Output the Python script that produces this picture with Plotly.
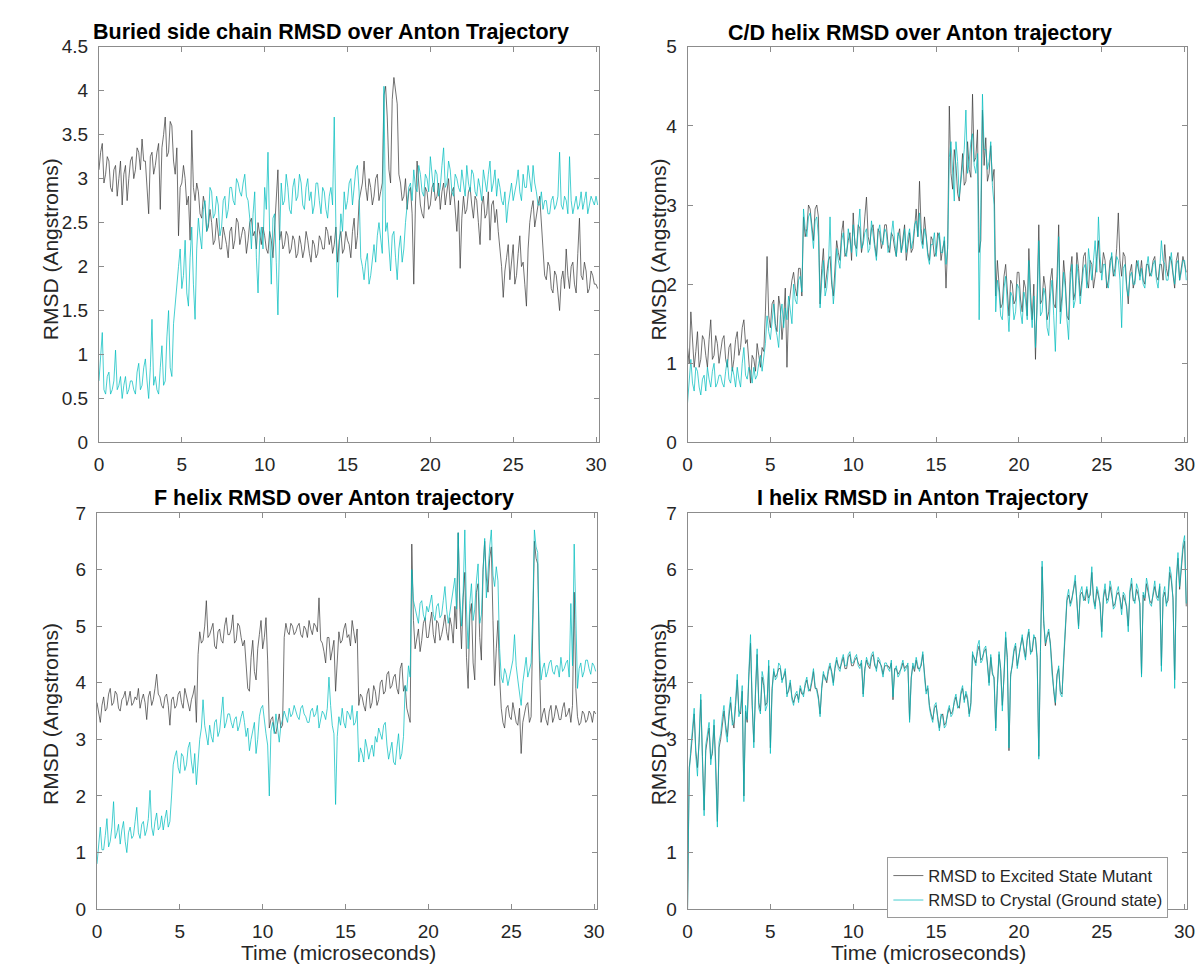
import plotly.graph_objects as go

W, H = 1203, 975

# time axis (microseconds), one sample every 0.1 us
time_us = [round(0.1 * i, 1) for i in range(302)]

# ---- Panel 1: Buried side chain RMSD ----
side_excited = [
    3.10,3.30, 3.40,2.95, 3.05,3.25, 3.20,2.90, 2.85,3.10, 3.15,2.80, 3.00,3.20, 2.70,3.05, 3.15,2.75, 3.00,3.20,
    3.25,3.00, 3.10,3.35, 3.30,3.10, 3.45,3.20, 3.20,2.95, 2.60,3.25, 3.30,3.05, 3.15,3.30, 3.40,2.65, 3.35,3.50,
    3.70,3.25, 3.30,3.65, 3.60,3.20, 3.05,3.35, 2.35,2.90, 2.95,3.15, 3.00,2.70, 2.80,2.30, 3.55,2.90, 2.75,2.95,
    2.85,2.60, 2.55,2.80, 2.70,2.40, 2.45,2.65, 2.50,2.25, 2.30,2.55, 2.40,2.20, 2.20,2.45, 2.35,2.25, 2.10,2.40,
    2.45,2.20, 2.30,2.55, 2.50,2.25, 2.35,2.45, 2.40,2.15, 2.30,2.50, 2.55,2.35, 2.40,2.20, 2.50,2.35, 2.25,2.45,
    2.35,2.20, 2.15,2.40, 2.30,2.10, 2.45,2.65, 3.10,2.30, 2.40,2.20, 2.25,2.40, 2.35,2.15, 2.20,2.35, 2.30,2.10,
    2.15,2.35, 2.25,2.10, 2.20,2.40, 2.30,2.15, 2.05,2.30, 2.25,2.10, 2.15,2.35, 2.30,2.20, 2.20,2.45, 2.40,2.25,
    2.35,2.15, 2.25,2.45, 2.05,2.30, 2.40,2.15, 2.20,2.40, 2.30,2.25, 2.10,2.40, 2.55,2.20, 2.35,2.75, 2.85,2.95,
    3.20,2.90, 2.75,3.00, 2.90,2.70, 2.80,3.00, 3.05,2.75, 2.85,2.95, 3.95,4.05, 3.70,3.10, 2.95,3.90, 4.15,4.00,
    3.85,3.05, 2.95,2.75, 2.80,3.00, 2.65,2.85, 2.90,2.60, 1.80,2.70, 3.20,2.95, 2.70,2.60, 2.55,2.90, 2.85,2.65,
    2.70,2.90, 2.95,2.75, 2.80,2.95, 2.65,2.85, 2.95,2.70, 2.85,3.00, 2.70,2.85, 2.90,2.60, 2.40,2.75, 1.98,2.55,
    2.80,2.60, 2.65,2.85, 2.90,2.70, 2.55,2.80, 2.75,2.50, 2.25,2.70, 2.80,2.55, 2.60,2.85, 2.30,2.70, 2.75,2.50,
    2.65,2.40, 2.20,2.00, 1.65,1.95, 2.10,2.25, 1.85,2.05, 2.25,1.80, 1.90,2.15, 2.35,2.00, 2.05,1.80, 1.55,2.20,
    2.50,2.65, 2.75,2.45, 2.60,2.70, 2.80,2.50, 2.10,1.90, 1.85,2.05, 2.00,1.75, 1.70,1.95, 1.90,1.70, 1.50,1.85,
    1.95,1.75, 2.20,1.90, 1.75,2.00, 2.05,1.80, 1.70,2.15, 2.55,1.90, 1.85,2.05, 1.95,1.70, 1.75,1.95, 1.90,1.80,
    1.80, 1.75,
]
side_crystal = [
    0.70,0.95, 1.25,0.60, 0.55,0.75, 0.80,0.55, 0.60,0.70, 1.05,0.60, 0.65,0.75, 0.50,0.65, 0.75,0.55, 0.60,0.70,
    0.70,0.60, 0.55,0.80, 0.90,0.60, 0.65,0.85, 0.95,0.70, 0.50,0.85, 1.40,0.65, 0.75,0.60, 0.55,0.85, 1.10,0.65,
    0.70,1.20, 1.50,0.85, 0.75,1.35, 1.60,1.85, 2.00,2.20, 1.75,1.90, 2.30,1.70, 1.55,2.10, 2.45,1.80, 1.40,2.20,
    2.55,2.35, 2.20,2.65, 2.75,2.40, 2.50,2.90, 2.85,2.55, 2.60,2.80, 2.70,2.35, 2.45,2.75, 2.80,2.55, 2.65,2.90,
    2.90,2.75, 2.70,3.00, 2.95,2.85, 2.80,2.95, 3.05,2.80, 2.75,2.55, 2.20,2.60, 2.85,2.10, 1.70,2.30, 2.45,2.20,
    2.90,2.65, 3.30,2.40, 1.80,2.55, 2.60,2.05, 1.45,2.30, 2.95,2.70, 2.75,3.05, 2.90,2.65, 2.60,2.90, 3.00,2.75,
    2.80,3.05, 2.95,2.70, 2.65,2.90, 3.00,2.75, 2.85,2.60, 2.70,2.95, 2.95,2.75, 2.60,2.90, 2.85,2.65, 2.55,2.80,
    2.90,2.70, 3.70,2.45, 1.65,2.20, 2.60,2.40, 2.85,2.65, 2.75,2.95, 3.00,2.70, 2.90,3.10, 3.15,2.85, 2.10,2.00,
    1.85,2.05, 2.15,1.80, 1.90,2.10, 2.25,2.05, 2.35,2.50, 2.30,2.15, 4.05,2.40, 2.50,2.20, 1.95,2.35, 2.40,2.10,
    1.85,2.20, 2.35,2.05, 2.20,2.50, 2.75,2.90, 2.95,2.75, 3.10,2.90, 2.85,3.15, 3.05,2.85, 2.80,3.05, 3.00,2.85,
    3.25,3.00, 2.85,3.10, 3.05,2.80, 2.90,3.15, 3.35,2.90, 2.95,3.20, 3.10,2.85, 2.80,3.05, 3.00,2.90, 2.85,3.10,
    2.95,2.80, 3.15,2.95, 2.85,3.10, 3.05,2.85, 2.80,3.00, 2.90,2.75, 3.10,2.95, 2.85,3.05, 3.20,2.85, 2.95,3.10,
    2.80,3.00, 2.90,2.75, 2.70,2.85, 2.50,2.70, 2.85,2.95, 2.75,2.85, 2.95,3.10, 2.85,2.75, 3.05,2.90, 2.90,3.15,
    3.00,2.85, 3.15,2.95, 2.85,2.70, 2.70,2.85, 2.65,2.75, 2.75,2.60, 2.60,2.75, 2.80,2.65, 2.70,2.80, 3.30,2.70,
    2.65,2.80, 2.75,2.60, 3.25,2.75, 2.60,2.70, 2.80,2.65, 2.70,2.85, 2.65,2.75, 2.85,2.60, 2.70,2.80, 2.75,2.70,
    2.80, 2.70,
]

# ---- Panel 2: C/D helix RMSD ----
cd_excited = [
    1.20,1.00, 1.65,1.25, 0.95,1.15, 1.40,0.95, 1.05,1.35, 1.30,1.10, 0.95,1.30, 1.55,1.05, 1.10,1.35, 1.25,1.00,
    1.15,1.30, 1.35,1.05, 0.95,1.20, 1.25,0.90, 1.05,1.30, 1.40,1.10, 1.20,1.45, 1.55,1.25, 1.30,1.00, 0.75,1.10,
    1.05,0.90, 1.25,1.10, 0.95,1.20, 1.15,1.65, 2.35,1.60, 1.45,1.75, 1.80,1.50, 1.40,1.85, 1.70,1.30, 1.55,1.95,
    0.95,1.70, 1.90,2.05, 2.15,1.95, 1.85,2.20, 2.20,1.85, 2.85,2.60, 2.70,3.00, 2.95,2.75, 2.55,2.95, 3.00,2.85,
    1.75,2.20, 2.45,1.95, 2.10,2.30, 2.35,2.00, 1.85,2.25, 2.55,2.40, 2.30,2.65, 2.80,2.35, 2.40,2.55, 2.65,2.30,
    2.90,2.50, 2.45,2.75, 2.70,2.40, 2.55,2.85, 3.10,2.60, 2.50,2.70, 2.75,2.50, 2.35,2.70, 2.65,2.45, 2.55,2.75,
    2.75,2.50, 2.40,2.65, 2.60,2.45, 2.35,2.60, 2.70,2.40, 2.55,2.75, 2.30,2.50, 2.65,2.40, 2.45,2.70, 2.95,2.60,
    3.30,2.70, 2.50,2.85, 2.65,2.40, 2.30,2.60, 2.55,2.35, 2.40,2.65, 2.60,2.30, 2.45,2.55, 1.95,2.50, 4.25,3.40,
    3.20,3.70, 3.50,3.15, 3.05,3.40, 3.65,3.25, 3.30,3.80, 3.45,3.35, 4.40,3.55, 3.60,3.95, 2.40,2.55, 4.20,3.50,
    3.85,3.30, 3.40,3.75, 3.30,3.45, 1.85,2.30, 2.05,1.70, 1.75,2.10, 2.25,1.90, 1.60,2.05, 2.00,1.75, 1.80,2.15,
    2.15,1.80, 1.65,2.05, 1.95,1.60, 2.45,1.90, 1.55,2.00, 1.05,1.85, 2.75,1.75, 1.80,2.10, 1.95,1.55, 1.65,2.05,
    2.20,1.75, 1.70,2.10, 2.75,1.65, 1.85,2.30, 2.05,1.60, 1.55,2.15, 2.35,1.80, 1.90,2.40, 2.20,1.85, 2.05,2.35,
    2.40,2.05, 1.95,2.30, 2.25,1.95, 2.10,2.35, 2.55,2.15, 2.15,2.40, 2.30,1.95, 2.05,2.30, 2.35,2.10, 2.20,2.45,
    2.90,2.30, 2.10,2.40, 2.35,2.00, 1.75,2.15, 2.25,1.95, 2.05,2.30, 2.20,2.10, 2.30,2.05, 2.00,2.25, 2.25,2.10,
    2.15,2.30, 2.35,2.10, 2.05,2.25, 2.25,2.05, 2.50,2.20, 2.10,2.35, 2.30,2.10, 1.95,2.30, 2.40,2.05, 2.20,2.35,
    2.25, 2.15,
]
cd_crystal = [
    0.50,0.85, 1.05,0.75, 0.65,0.95, 0.90,0.70, 0.60,0.80, 0.85,0.65, 0.95,0.80, 0.70,0.90, 1.00,0.70, 0.75,0.85,
    0.85,0.75, 0.70,0.90, 1.05,0.80, 0.75,0.95, 0.85,0.70, 0.95,0.80, 0.70,1.00, 1.20,0.85, 0.80,0.95, 0.90,0.75,
    0.95,0.80, 0.85,1.00, 1.10,0.90, 1.05,1.25, 1.60,1.40, 1.30,1.55, 1.75,1.45, 1.35,1.20, 1.60,1.75, 1.45,1.70,
    1.55,1.85, 1.70,1.50, 2.00,1.80, 1.75,2.05, 2.10,1.90, 2.95,2.70, 2.60,2.85, 2.90,2.65, 2.45,2.80, 2.85,2.60,
    1.70,2.05, 2.30,1.85, 1.95,2.20, 2.85,2.10, 1.75,2.00, 2.45,2.30, 2.20,2.55, 2.65,2.40, 2.35,2.70, 2.55,2.40,
    2.75,2.55, 2.35,2.70, 2.95,2.45, 2.50,2.65, 2.70,2.40, 2.45,2.80, 2.60,2.45, 2.30,2.65, 2.75,2.55, 2.50,2.70,
    2.65,2.40, 2.45,2.60, 2.80,2.55, 2.35,2.65, 2.60,2.40, 2.50,2.70, 2.40,2.60, 2.70,2.45, 2.55,2.75, 2.80,2.60,
    2.90,2.55, 2.45,2.70, 2.60,2.35, 2.25,2.50, 2.50,2.65, 2.35,2.55, 2.65,2.40, 2.40,2.60, 2.25,2.45, 3.60,3.80,
    3.35,3.05, 3.80,3.55, 3.10,3.30, 3.45,3.70, 4.20,3.40, 3.55,3.80, 3.90,3.50, 3.40,3.65, 1.55,3.20, 4.40,3.70,
    3.70,3.45, 3.55,3.80, 3.25,3.00, 1.65,2.05, 1.90,1.60, 1.55,1.95, 2.10,1.75, 1.40,1.90, 1.85,1.55, 1.65,2.00,
    1.95,1.65, 1.50,1.90, 1.80,1.55, 2.30,1.75, 1.45,1.85, 1.20,1.70, 2.55,1.60, 1.65,1.95, 1.85,1.45, 1.35,1.85,
    2.05,1.60, 1.15,1.85, 2.60,1.50, 1.75,2.15, 1.95,1.55, 1.30,2.00, 2.25,1.70, 1.80,2.25, 2.05,1.75, 1.95,2.20,
    2.25,1.95, 2.45,2.20, 2.05,2.30, 2.55,2.15, 2.85,2.35, 2.05,2.25, 2.25,2.00, 1.95,2.20, 2.40,2.15, 2.10,2.35,
    2.30,2.05, 1.45,2.20, 2.25,1.95, 1.85,2.10, 2.15,2.00, 2.00,2.25, 2.30,2.05, 2.20,2.00, 1.95,2.20, 2.35,2.15,
    2.10,2.25, 2.30,2.05, 1.95,2.20, 2.55,2.30, 2.25,2.05, 2.05,2.25, 2.40,2.15, 2.00,2.25, 2.30,2.05, 2.15,2.30,
    2.30, 2.05,
]

# ---- Panel 3: F helix RMSD ----
f_excited = [
    3.65,3.45, 3.30,3.60, 3.75,3.50, 3.55,3.80, 3.90,3.60, 3.65,3.85, 3.80,3.55, 3.50,3.70, 3.75,3.85, 3.60,3.70,
    3.85,3.60, 3.65,3.75, 3.70,3.90, 3.55,3.70, 3.80,3.65, 3.35,3.75, 3.85,3.60, 3.70,3.90, 4.15,3.80, 3.75,3.60,
    3.55,3.75, 3.80,3.60, 3.25,3.70, 3.75,3.55, 3.60,3.80, 3.85,3.65, 3.55,3.90, 3.75,3.60, 3.50,3.70, 3.80,3.95,
    3.30,4.50, 4.90,4.70, 4.75,5.00, 5.45,4.80, 4.85,4.95, 5.05,4.65, 4.60,4.90, 4.95,4.75, 4.70,5.00, 5.15,4.85,
    4.85,4.95, 5.20,4.70, 4.75,5.05, 5.00,4.80, 4.65,4.75, 4.40,3.90, 3.85,4.45, 4.75,4.20, 4.05,4.60, 4.85,5.10,
    4.60,4.80, 5.15,4.40, 3.20,3.35, 3.40,3.15, 3.10,3.30, 3.45,3.20, 3.25,4.80, 5.05,4.90, 4.85,5.05, 5.00,4.85,
    4.90,5.00, 5.05,4.85, 4.80,5.00, 4.95,4.80, 5.10,4.95, 4.85,5.05, 5.00,4.90, 5.50,4.75, 4.70,4.55, 4.35,4.80,
    4.80,4.40, 4.55,4.75, 3.85,4.50, 4.90,4.70, 4.75,4.95, 5.05,4.80, 4.85,4.65, 5.10,4.90, 4.70,4.95, 3.60,3.80,
    3.75,3.60, 3.50,3.80, 3.90,3.55, 3.65,3.95, 3.85,3.60, 3.70,4.00, 4.05,3.80, 3.85,4.15, 4.20,3.90, 3.95,4.10,
    4.15,3.90, 3.80,4.25, 4.35,3.85, 3.95,3.55, 3.40,3.30, 6.45,5.10, 4.60,4.80, 4.95,4.55, 4.75,5.05, 5.15,4.80,
    4.80,5.05, 5.25,4.85, 4.70,5.10, 5.05,4.75, 4.85,5.00, 5.20,4.90, 4.75,5.15, 5.00,4.70, 5.35,4.95, 6.65,5.30,
    4.60,5.50, 5.95,4.45, 3.90,5.20, 5.40,4.35, 4.05,5.60, 5.75,4.80, 4.40,6.00, 6.50,5.85, 5.60,6.20, 6.40,5.10,
    3.95,4.60, 5.10,4.10, 3.55,3.30, 3.20,3.55, 3.60,3.40, 3.35,3.65, 3.50,3.30, 3.25,3.55, 2.75,3.30, 3.45,3.60,
    3.65,3.30, 3.40,4.80, 6.50,6.20, 6.10,4.40, 3.30,3.45, 3.55,3.35, 3.25,3.50, 3.60,3.30, 3.40,3.60, 3.50,3.35,
    3.35,3.55, 3.65,3.40, 3.45,3.55, 3.30,3.60, 5.60,3.90, 3.40,3.25, 3.30,3.50, 3.45,3.30, 3.35,3.50, 3.45,3.30,
    3.50, 3.45,
]
f_crystal = [
    0.80,1.20, 1.45,1.05, 1.05,1.30, 1.60,1.10, 1.20,1.45, 1.90,1.25, 1.35,1.50, 1.15,1.40, 1.55,1.20, 1.00,1.35,
    1.45,1.25, 1.30,1.55, 1.80,1.35, 1.25,1.50, 1.55,1.30, 1.40,1.60, 2.10,1.45, 1.30,1.55, 1.70,1.40, 1.45,1.65,
    1.40,1.60, 1.75,1.45, 1.55,2.00, 2.55,2.70, 2.80,2.50, 2.40,2.75, 2.70,2.45, 2.55,2.85, 2.95,2.60, 2.40,2.75,
    2.20,2.60, 3.00,3.20, 3.70,3.25, 3.10,2.90, 3.25,3.05, 2.95,3.30, 3.35,3.05, 3.15,3.40, 3.75,3.20, 3.30,3.45,
    3.45,3.30, 3.20,3.35, 3.40,3.15, 3.25,3.40, 3.50,3.30, 3.05,3.20, 2.80,3.00, 3.15,3.30, 2.75,3.00, 3.40,3.55,
    3.60,3.30, 3.10,2.90, 2.00,3.15, 3.30,3.10, 3.45,3.20, 2.95,3.25, 3.35,3.50, 3.40,3.30, 3.55,3.40, 3.45,3.60,
    3.50,3.40, 3.35,3.55, 3.60,3.45, 3.40,3.30, 3.30,3.50, 3.55,3.40, 3.45,3.60, 3.20,3.35, 3.50,3.45, 3.35,3.55,
    4.10,3.60, 3.25,3.10, 1.85,3.05, 3.40,3.25, 3.55,3.30, 3.20,3.50, 3.45,3.35, 3.60,3.25, 3.30,3.50, 2.60,2.85,
    2.75,2.60, 3.00,2.85, 2.65,2.80, 2.90,2.70, 3.05,2.95, 3.20,3.10, 3.00,3.25, 3.30,2.90, 2.65,2.80, 2.95,2.60,
    2.55,2.85, 3.10,2.65, 2.75,3.05, 3.95,3.85, 4.30,4.10, 6.00,5.45, 5.30,5.15, 5.05,5.40, 5.45,5.20, 5.10,5.35,
    5.25,5.40, 5.55,5.20, 5.10,5.35, 5.40,5.15, 5.20,5.45, 5.70,5.30, 5.05,5.25, 5.45,5.60, 5.85,5.30, 6.65,5.50,
    5.00,5.60, 6.70,5.30, 4.60,5.40, 5.75,5.10, 5.30,5.80, 6.10,5.05, 5.20,5.95, 6.55,5.50, 6.05,6.40, 6.70,5.90,
    5.70,6.05, 5.80,4.60, 4.10,4.00, 4.25,4.15, 3.95,4.10, 4.20,4.40, 4.85,4.30, 4.05,3.85, 3.60,4.00, 4.25,4.45,
    4.10,4.25, 4.35,5.20, 6.70,6.40, 6.30,4.60, 4.05,4.25, 4.35,4.10, 4.20,4.35, 4.40,4.20, 4.15,4.30, 4.30,4.10,
    4.45,4.20, 4.25,4.35, 4.40,4.10, 5.40,4.30, 6.45,5.20, 3.90,4.25, 4.35,4.10, 4.20,4.40, 4.40,4.25, 4.15,4.35,
    4.30, 4.20,
]

# ---- Panel 4: I helix RMSD ----
i_excited = [
    0.00,2.50, 2.75,3.10, 3.45,2.80, 2.50,2.95, 3.70,2.70, 1.75,2.80, 3.00,3.20, 2.65,2.75, 3.25,2.60, 1.55,2.85,
    3.00,3.30, 3.50,3.25, 3.05,3.40, 3.65,3.35, 3.20,3.60, 4.05,3.50, 3.45,3.85, 2.00,3.50, 3.30,4.10, 4.70,3.60,
    2.95,3.80, 4.50,3.65, 3.50,4.10, 3.95,3.60, 3.65,4.30, 2.85,3.90, 4.20,4.10, 4.15,4.25, 4.25,4.05, 4.10,4.20,
    3.80,3.85, 4.00,3.75, 3.65,3.75, 3.80,3.70, 3.90,3.80, 3.80,3.95, 4.05,3.90, 3.85,4.00, 4.20,3.90, 3.90,3.75,
    3.45,3.90, 4.15,4.10, 4.00,4.20, 4.30,4.20, 4.00,4.25, 4.40,4.30, 4.25,4.35, 4.45,4.25, 4.25,4.45, 4.50,4.30,
    4.30,4.40, 4.45,4.35, 4.30,4.35, 3.80,4.25, 4.40,4.30, 4.25,4.45, 4.50,4.30, 4.25,4.40, 4.35,4.30, 4.15,4.30,
    4.30,4.30, 4.25,4.35, 3.70,4.25, 4.25,4.15, 4.20,4.25, 4.35,4.25, 4.30,4.30, 3.35,4.10, 4.30,4.20, 4.40,4.25,
    4.25,4.30, 4.50,4.15, 3.85,3.90, 3.60,3.45, 3.35,3.55, 3.60,3.40, 3.20,3.40, 3.45,3.25, 3.30,3.45, 3.55,3.45,
    3.50,3.65, 3.75,3.60, 3.55,3.80, 3.90,3.70, 3.80,3.70, 3.45,3.65, 4.50,4.45, 4.35,4.55, 4.65,4.40, 4.45,4.55,
    4.60,4.35, 4.00,4.45, 4.15,4.10, 3.20,3.95, 4.50,4.25, 3.60,4.10, 4.80,4.45, 2.80,4.15, 4.30,4.55, 4.65,4.30,
    4.50,4.65, 4.80,4.60, 4.45,4.75, 4.90,4.55, 4.55,4.80, 4.80,4.45, 2.70,4.55, 6.05,5.05, 4.65,4.80, 4.90,4.70,
    4.20,3.85, 3.60,4.15, 4.25,3.85, 3.80,4.40, 5.00,5.45, 5.55,5.40, 5.50,5.65, 5.80,5.45, 5.00,5.55, 5.60,5.50,
    5.45,5.65, 5.50,5.55, 5.95,5.50, 5.35,5.65, 5.50,5.40, 4.90,5.50, 5.65,5.45, 5.50,5.70, 5.55,5.35, 5.40,5.55,
    5.60,5.50, 5.30,5.55, 5.45,5.35, 5.00,5.60, 5.75,5.45, 5.45,5.65, 5.55,5.40, 4.15,5.55, 5.45,5.75, 5.60,5.45,
    5.40,5.55, 5.70,5.55, 5.50,5.70, 4.30,5.50, 5.60,5.40, 5.45,5.95, 5.80,5.50, 4.05,5.80, 6.20,5.65, 6.00,6.35,
    6.50, 5.35,
]
i_crystal = [
    0.00,2.40, 2.85,3.20, 3.55,2.70, 2.35,3.05, 3.80,2.60, 1.65,2.90, 3.10,3.30, 2.55,2.85, 3.35,2.50, 1.45,2.95,
    3.10,3.40, 3.60,3.15, 2.95,3.50, 3.75,3.25, 3.30,3.70, 4.15,3.40, 3.55,3.95, 1.90,3.60, 3.35,4.20, 4.85,3.70,
    2.85,3.90, 4.60,3.55, 3.45,4.20, 4.05,3.50, 3.60,4.40, 2.75,3.80, 4.25,4.05, 4.10,4.35, 4.30,4.00, 4.15,4.25,
    3.75,3.90, 4.05,3.70, 3.60,3.80, 3.85,3.65, 3.95,3.85, 3.75,4.00, 4.10,3.85, 3.90,4.05, 4.25,3.95, 3.85,3.70,
    3.40,3.95, 4.20,4.05, 4.05,4.25, 4.35,4.15, 3.95,4.30, 4.45,4.25, 4.20,4.40, 4.50,4.30, 4.30,4.50, 4.55,4.35,
    4.35,4.45, 4.50,4.30, 4.25,4.40, 3.75,4.20, 4.45,4.35, 4.30,4.50, 4.55,4.35, 4.20,4.45, 4.40,4.25, 4.10,4.35,
    4.35,4.25, 4.20,4.40, 3.75,4.20, 4.30,4.10, 4.15,4.30, 4.40,4.20, 4.25,4.35, 3.30,4.05, 4.35,4.25, 4.45,4.30,
    4.20,4.35, 4.55,4.10, 3.80,3.95, 3.55,3.40, 3.30,3.60, 3.65,3.35, 3.15,3.45, 3.40,3.20, 3.25,3.50, 3.60,3.40,
    3.45,3.70, 3.80,3.55, 3.60,3.85, 3.95,3.65, 3.85,3.75, 3.40,3.60, 4.55,4.40, 4.30,4.65, 4.75,4.35, 4.40,4.60,
    4.65,4.30, 3.95,4.50, 4.20,4.05, 3.15,3.90, 4.55,4.20, 3.50,4.15, 4.90,4.40, 2.85,4.10, 4.35,4.60, 4.70,4.25,
    4.45,4.70, 4.85,4.55, 4.40,4.80, 4.95,4.50, 4.60,4.85, 4.75,4.40, 2.65,4.60, 6.15,5.10, 4.70,4.85, 4.95,4.65,
    4.15,3.90, 3.65,4.10, 4.30,3.80, 3.75,4.45, 5.05,5.50, 5.65,5.35, 5.45,5.70, 5.90,5.40, 4.95,5.60, 5.70,5.45,
    5.55,5.70, 5.40,5.60, 6.05,5.45, 5.30,5.70, 5.60,5.35, 4.80,5.55, 5.75,5.40, 5.45,5.80, 5.65,5.30, 5.35,5.60,
    5.70,5.45, 5.20,5.60, 5.55,5.30, 4.90,5.65, 5.85,5.50, 5.40,5.75, 5.65,5.35, 4.10,5.60, 5.50,5.85, 5.70,5.40,
    5.35,5.60, 5.80,5.50, 5.45,5.75, 4.20,5.55, 5.70,5.35, 5.55,6.05, 5.90,5.45, 3.90,5.85, 6.30,5.70, 6.05,6.45,
    6.60, 5.40,
]

titles = [
    "Buried side chain RMSD over Anton Trajectory",
    "C/D helix RMSD over Anton trajectory",
    "F helix RMSD over Anton trajectory",
    "I helix RMSD in Anton Trajectory",
]
series_names = ["RMSD to Excited State Mutant", "RMSD to Crystal (Ground state)"]
y_ranges = [(0, 4.5, 0.5), (0, 5, 1), (0, 7, 1), (0, 7, 1)]
x_ticks = [0, 5, 10, 15, 20, 25, 30]

panels = [
    (side_excited, side_crystal),
    (cd_excited, cd_crystal),
    (f_excited, f_crystal),
    (i_excited, i_crystal),
]

GRAY = "rgba(60,60,60,0.72)"
CYAN = "rgba(0,188,190,0.72)"
FONT = "Liberation Sans, Arial, Helvetica, sans-serif"

# axis boxes in pixels: (left, right, top, bottom)
boxes = [
    (95, 600, 37.5, 442),
    (690, 1195, 37.5, 442),
    (93, 598, 514, 919),
    (690, 1195, 514, 919),
]

fig = go.Figure()
for k, (exc, cry) in enumerate(panels):
    suffix = "" if k == 0 else str(k + 1)
    n1 = min(len(time_us), len(exc))
    n2 = min(len(time_us), len(cry))
    fig.add_trace(go.Scatter(
        x=time_us[:n1], y=exc[:n1], mode="lines", name=series_names[0],
        line=dict(color=GRAY, width=1), xaxis="x" + suffix, yaxis="y" + suffix,
        showlegend=(k == 3), legendrank=1))
    fig.add_trace(go.Scatter(
        x=time_us[:n2], y=cry[:n2], mode="lines", name=series_names[1],
        line=dict(color=CYAN, width=1), xaxis="x" + suffix, yaxis="y" + suffix,
        showlegend=(k == 3), legendrank=2))

layout = dict(
    width=W, height=H,
    margin=dict(l=0, r=0, t=0, b=0),
    paper_bgcolor="white", plot_bgcolor="white",
    font=dict(family=FONT, color="#262626"),
    legend=dict(
        x=892 / W, y=1 - 866 / H, xanchor="left", yanchor="top",
        bgcolor="white", bordercolor="#9a9a9a", borderwidth=1,
        font=dict(family=FONT, size=16.5, color="#262626"),
        itemwidth=30, tracegroupgap=0,
    ),
    annotations=[],
)

axis_common = dict(
    showline=True, linecolor="#8c8c8c", linewidth=1, mirror="allticks",
    ticks="inside", ticklen=5, tickcolor="#8c8c8c", tickwidth=1,
    showgrid=False, zeroline=False,
    tickfont=dict(family=FONT, size=19, color="#262626"),
)

for k, (l, r, t, b) in enumerate(boxes):
    suffix = "" if k == 0 else str(k + 1)
    y0, y1, dy = y_ranges[k]
    yt = []
    v = y0
    while v <= y1 + 1e-9:
        yt.append(round(v, 2))
        v += dy
    ytext = [("%g" % val) for val in yt]
    layout["xaxis" + suffix] = dict(
        axis_common, domain=[l / W, r / W], anchor="y" + suffix,
        range=[0, 30.15], tickvals=x_ticks, ticklabelstandoff=5)
    layout["yaxis" + suffix] = dict(
        axis_common, domain=[1 - b / H, 1 - t / H], anchor="x" + suffix,
        range=[y0, y1], tickvals=yt, ticktext=ytext, ticklabelstandoff=6)

# titles
title_pos = [(330, 22), (925, 23), (333, 499), (928, 499)]
for k, (cx, cy) in enumerate(title_pos):
    layout["annotations"].append(dict(
        text="<b>" + titles[k] + "</b>", x=cx / W, y=1 - cy / H,
        xref="paper", yref="paper", xanchor="center", yanchor="middle",
        showarrow=False, font=dict(family=FONT, size=21.5, color="#000000")))

# y labels
ylab_pos = [(46, 245), (661, 245), (46, 720), (661, 720)]
for cx, cy in ylab_pos:
    layout["annotations"].append(dict(
        text="RMSD (Angstroms)", x=cx / W, y=1 - cy / H, xref="paper", yref="paper",
        xanchor="center", yanchor="middle", textangle=-90, showarrow=False,
        font=dict(family=FONT, size=21, color="#262626")))

# x labels (bottom row)
for cx in (337, 934):
    layout["annotations"].append(dict(
        text="Time (microseconds)", x=cx / W, y=1 - 963 / H, xref="paper", yref="paper",
        xanchor="center", yanchor="middle", showarrow=False,
        font=dict(family=FONT, size=21, color="#262626")))

fig.update_layout(**layout)
fig.write_html("out.html")
